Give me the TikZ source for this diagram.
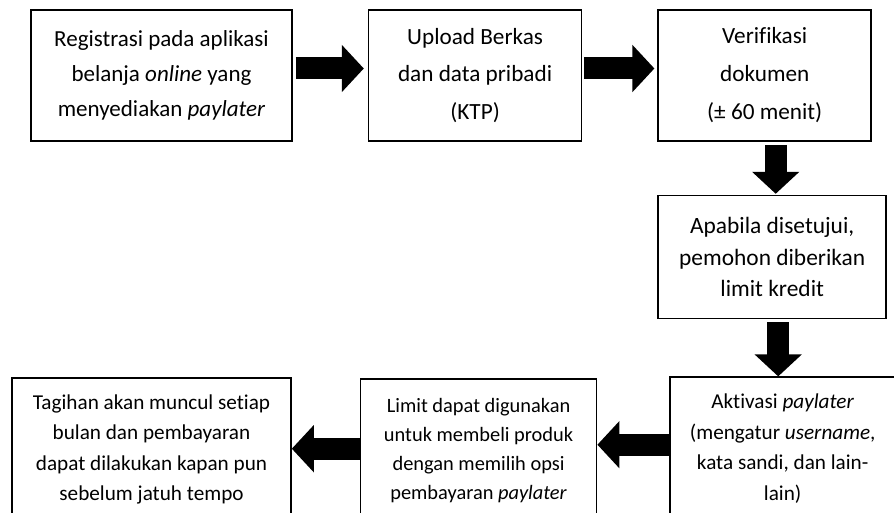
\documentclass[tikz,border=0pt]{standalone}
\usepackage{fontspec}
\setmainfont{Carlito}[Ligatures=NoCommon]
\usetikzlibrary{arrows.meta,positioning}
\tikzset{box/.style={draw=black,line width=1.6pt,align=center,inner sep=0pt,font=\fontsize{23}{35}\selectfont},boxlow/.style={box,minimum height=143pt,font=\fontsize{21.2}{30.5}\selectfont},blk/.style={line width=22pt,-{Triangle[width=46pt,length=22pt]}}}

\begin{document}
\begin{tikzpicture}[x=1pt,y=-1pt]
\useasboundingbox (0,0) rectangle (894,513);
\clip (0,0) rectangle (894,513);
\node[box,minimum width=261pt,minimum height=131pt] (reg) at (161.5,75.5) {Registrasi pada aplikasi\\belanja \textit{online} yang\\menyediakan \textit{paylater}};
\node[box,minimum width=213pt,minimum height=131pt,right=75pt of reg,font=\fontsize{23.2}{37.5}\selectfont] (upload) {Upload Berkas\\dan data pribadi\\(KTP)};
\node[box,minimum width=213pt,minimum height=131pt,right=75pt of upload,font=\fontsize{23.2}{38}\selectfont] (verif) {Verifikasi\\dokumen\\(± 60 menit)};
\node[box,minimum width=228pt,minimum height=123pt,below=53pt of verif,xshift=7.5pt,font=\fontsize{23.4}{31.7}\selectfont] (limit) {Apabila disetujui,\\pemohon diberikan\\limit kredit};
\node[boxlow,minimum width=225pt,below=57pt of limit,xshift=10.5pt] (aktiv) {Aktivasi \textit{paylater}\\(mengatur \textit{username},\\kata sandi, dan lain-\\lain)};
\node[boxlow,minimum width=236pt,left=72pt of aktiv,yshift=-2pt,font=\fontsize{20.4}{29}\selectfont] (pakai) {Limit dapat digunakan\\untuk membeli produk\\dengan memilih opsi\\pembayaran \textit{paylater}};
\node[boxlow,minimum width=279pt,left=68pt of pakai,yshift=1pt] (tagih) {Tagihan akan muncul setiap\\bulan dan pembayaran\\dapat dilakukan kapan pun\\sebelum jatuh tempo};
\draw[blk,shorten <=3pt,shorten >=4pt] ([yshift=7pt]reg.east) -- ([yshift=7pt]reg.east -| upload.west);
\draw[blk,shorten <=2pt,shorten >=3pt] ([yshift=7pt]reg.east -| upload.east) -- ([yshift=7pt]reg.east -| verif.west);
\draw[blk,shorten <=3pt,shorten >=1pt] ([xshift=11pt]verif.south) -- ([xshift=11pt]verif.south |- limit.north);
\draw[blk,shorten <=3pt] ([xshift=6pt]limit.south) -- ([xshift=6pt]limit.south |- aktiv.north);
\draw[blk] ([yshift=4pt]aktiv.west) -- ([yshift=4pt]aktiv.west -| pakai.east);
\draw[blk] ([yshift=2pt]pakai.west) -- ([yshift=2pt]pakai.west -| tagih.east);
\end{tikzpicture}
\end{document}
